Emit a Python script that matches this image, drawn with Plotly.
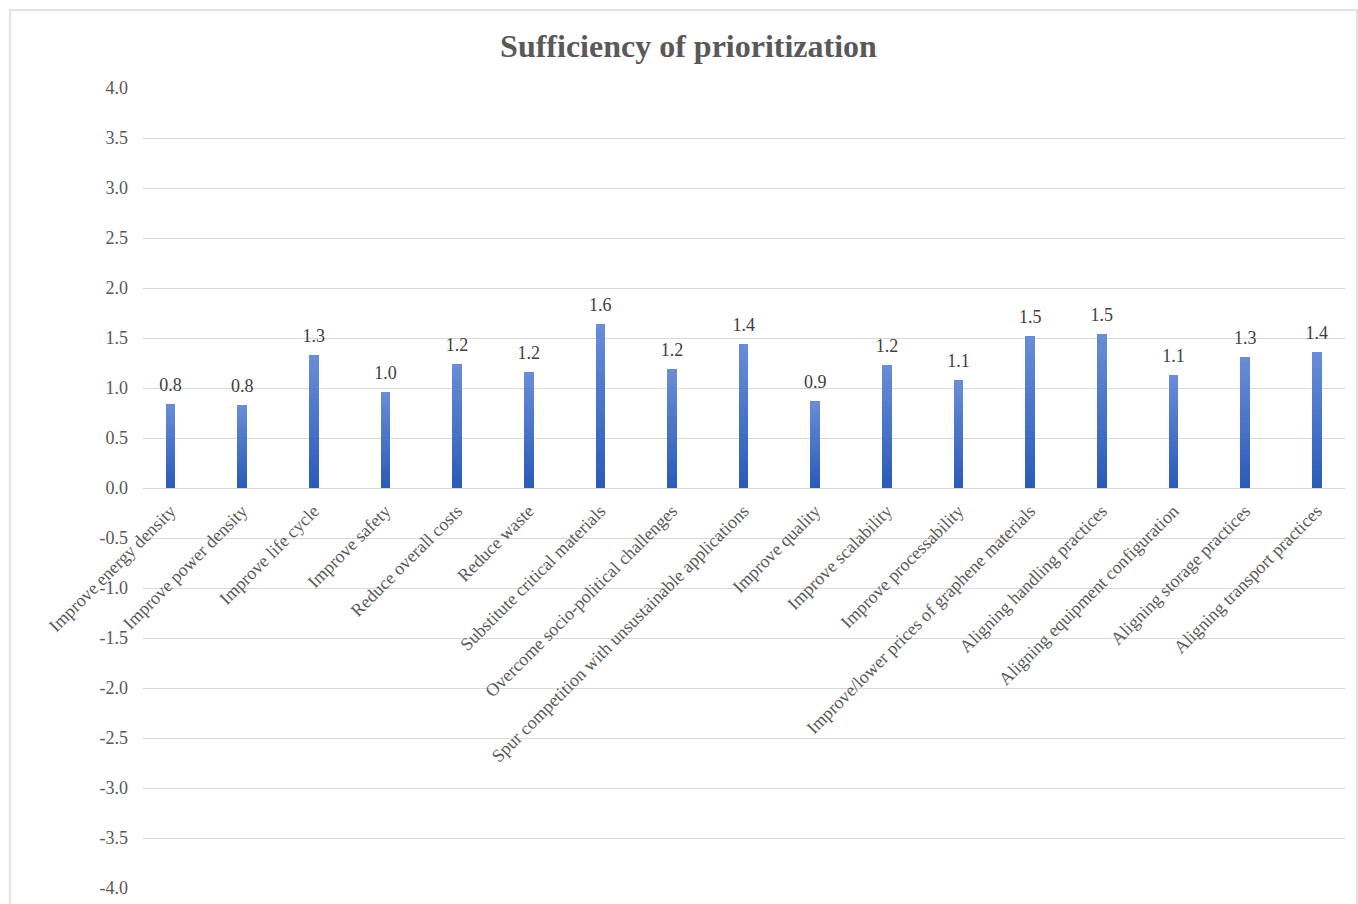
import plotly.graph_objects as go

categories = [
    "Improve energy density",
    "Improve power density",
    "Improve life cycle",
    "Improve safety",
    "Reduce overall costs",
    "Reduce waste",
    "Substitute critical materials",
    "Overcome socio-political challenges",
    "Spur competition with unsustainable applications",
    "Improve quality",
    "Improve scalability",
    "Improve processability",
    "Improve/lower prices of graphene materials",
    "Aligning handling practices",
    "Aligning equipment configuration",
    "Aligning storage practices",
    "Aligning transport practices",
]
values = [0.84, 0.83, 1.33, 0.96, 1.24, 1.16, 1.64, 1.19, 1.44, 0.87,
          1.23, 1.08, 1.52, 1.54, 1.13, 1.31, 1.36]
y_ticks = [-4.0, -3.5, -3.0, -2.5, -2.0, -1.5, -1.0, -0.5, 0.0,
           0.5, 1.0, 1.5, 2.0, 2.5, 3.0, 3.5, 4.0]

FONT = "Liberation Serif"
top_rgb = (104, 140, 214)
bot_rgb = (40, 90, 184)

fig = go.Figure()

N = 24
# Full bar (lightest, top colour)
fig.add_trace(go.Bar(
    x=categories, y=values, width=0.135,
    marker=dict(color="rgb(%d,%d,%d)" % top_rgb, line=dict(width=0)),
    hoverinfo="skip", showlegend=False,
))
# Overlaid shorter bars give a vertical gradient (darker at the base)
for k in range(N - 1, 0, -1):
    f = k / N
    t = 1 - f
    c = tuple(int(round(top_rgb[i] + (bot_rgb[i] - top_rgb[i]) * t)) for i in range(3))
    fig.add_trace(go.Bar(
        x=categories, y=[v * f for v in values], width=0.135,
        marker=dict(color="rgb(%d,%d,%d)" % c, line=dict(width=0)),
        hoverinfo="skip", showlegend=False,
    ))
# Value labels
fig.add_trace(go.Scatter(
    x=categories, y=values, mode="markers+text",
    marker=dict(size=12, opacity=0),
    text=["%.1f" % v for v in values], textposition="top center",
    textfont=dict(family=FONT, size=18, color="#404040"),
    cliponaxis=False, hoverinfo="skip", showlegend=False,
))

fig.update_layout(
    width=1358, height=904,
    margin=dict(l=143, r=13, t=88, b=16),
    paper_bgcolor="white", plot_bgcolor="white",
    barmode="overlay", bargap=0,
    title=dict(text="<b>Sufficiency of prioritization</b>", x=0.507, xref="container",
               y=1 - 46 / 904, yref="container", yanchor="middle", xanchor="center",
               font=dict(family=FONT, size=32, color="#595959")),
    font=dict(family=FONT, color="#595959"),
    xaxis=dict(
        type="category", range=[-0.384, 16.394],
        anchor="free", position=0.5, automargin=False,
        tickangle=-45, tickfont=dict(family=FONT, size=18, color="#595959"),
        showgrid=False, showline=False, ticks="", zeroline=False,
        ticklabelstandoff=8,
    ),
    yaxis=dict(
        range=[-4, 4], tickvals=y_ticks, ticktext=["%.1f" % v for v in y_ticks],
        tickfont=dict(family=FONT, size=18, color="#595959"),
        showgrid=True, gridcolor="#d9d9d9", gridwidth=1, automargin=False,
        zeroline=True, zerolinecolor="#d9d9d9", zerolinewidth=1,
        showline=False, ticks="", ticklabelstandoff=14,
    ),
    shapes=[dict(type="rect", xref="paper", yref="paper",
                 x0=(10 - 143) / 1202, x1=(1357 - 143) / 1202,
                 y0=(888 - 910) / 800, y1=(888 - 10) / 800,
                 line=dict(color="#d9d9d9", width=1.5), layer="below")],
)

fig.write_html("out.html")
